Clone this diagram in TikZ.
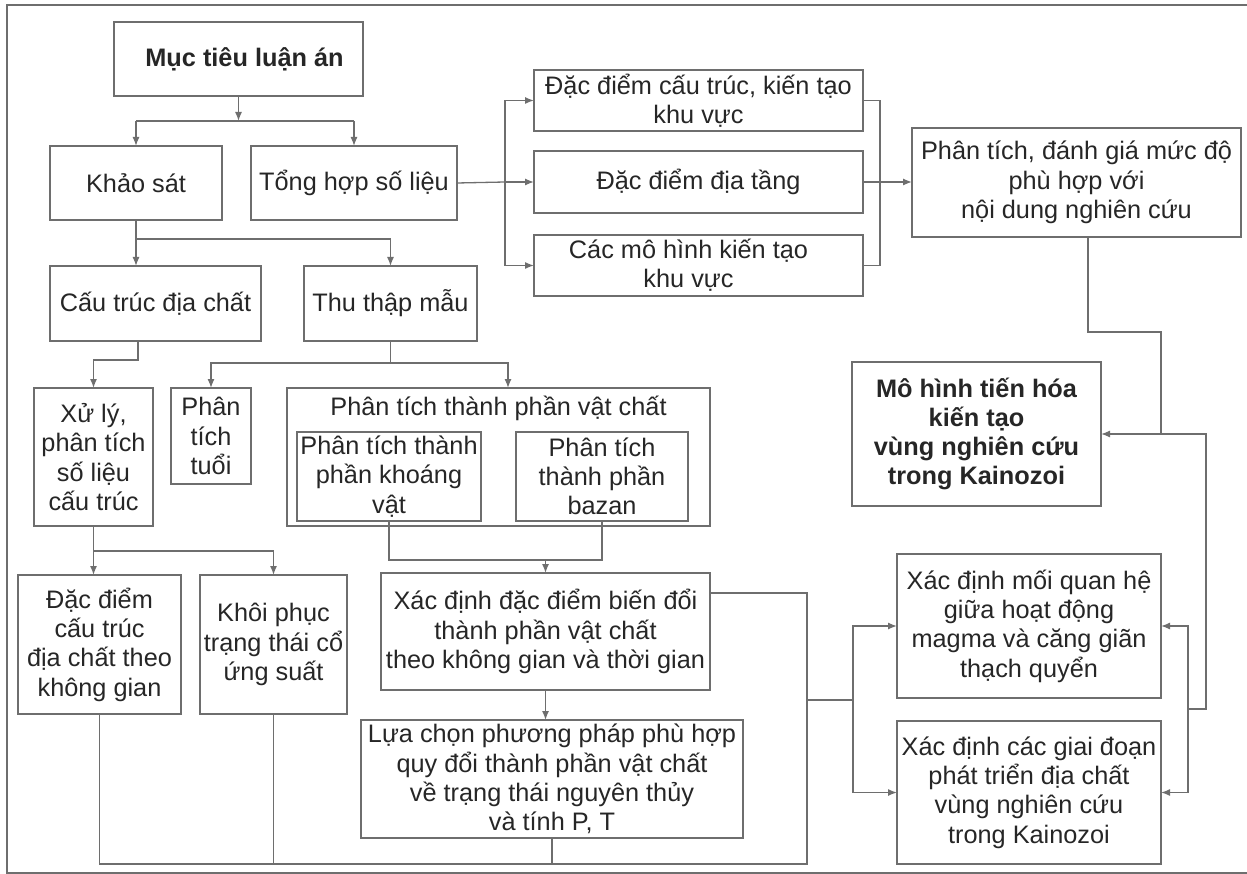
\documentclass[tikz,border=0pt]{standalone}
\usepackage{fontspec}
\setmainfont{Liberation Sans}
\usetikzlibrary{arrows.meta,calc}
\definecolor{lc}{RGB}{110,110,110}
\definecolor{tc}{RGB}{38,38,38}
\tikzset{
  box/.style={draw=lc, line width=1.3pt, inner sep=0pt, outer sep=0pt, align=center, text=tc,
    font=\fontsize{25.3}{29.3}\selectfont},
  boldbox/.style={font=\fontsize{25.3}{29.3}\selectfont\bfseries},
  ln/.style={draw=lc, line width=1.3pt},
  arr/.style={draw=lc, line width=1.3pt, -{Latex[length=9pt,width=7pt]}},
}
\newcommand{\mkbox}[7][]{\node[box,#1,minimum width={#5pt-#3pt},minimum height={#6pt-#4pt}] (#2) at ({(#3+#5)/2},{(#4+#6)/2}) {#7};}
\begin{document}
\begin{tikzpicture}[x=1pt,y=-1pt]
\useasboundingbox (0,0) rectangle (1247,874);
% frame
\draw[ln] (1248,5) -- (7,5) -- (7,873) -- (1248,873);
% boxes
\mkbox[boldbox]{muctieu}{114}{22}{363}{96}{\hspace*{12pt}Mục tiêu luận án}
\mkbox{khaosat}{50}{146}{222}{220}{Khảo sát}
\mkbox{tonghop}{251}{146}{457}{220}{Tổng hợp số liệu}
\mkbox{cautruc}{50}{266}{261}{341}{Cấu trúc địa chất}
\mkbox{thuthap}{304}{266}{477}{341}{Thu thập mẫu}
\mkbox{xuly}{34}{388}{153}{526}{Xử lý,\\phân tích\\số liệu\\cấu trúc}
\mkbox{tuoi}{171}{388}{251}{484}{Phân\\tích\\tuổi}
\mkbox{ptvc}{287}{388}{710}{526}{}
\node[text=tc, font=\fontsize{25.3}{29.3}\selectfont, inner sep=0pt] (ptvct) at (498.5,408) {Phân tích thành phần vật chất};
\mkbox{kv}{297}{432}{481}{521}{Phân tích thành\\phần khoáng\\vật}
\mkbox{bz}{516}{432}{688}{521}{Phân tích\\thành phần\\bazan}
\mkbox{dacdiem}{18}{575}{181}{714}{Đặc điểm\\cấu trúc\\địa chất theo\\không gian}
\mkbox{khoiphuc}{200}{575}{347}{714}{Khôi phục\\trạng thái cổ\\ứng suất}
\mkbox{xacdinh}{381}{573}{710}{690}{Xác định đặc điểm biến đổi\\thành phần vật chất\\theo không gian và thời gian}
\mkbox{luachon}{361}{720}{743}{838}{Lựa chọn phương pháp phù hợp\\quy đổi thành phần vật chất\\về trạng thái nguyên thủy\\và tính P, T}
\mkbox{dkt}{534}{70}{863}{131}{Đặc điểm cấu trúc, kiến tạo\\khu vực}
\mkbox{dtang}{534}{151}{863}{213}{Đặc điểm địa tầng}
\mkbox{cmh}{534}{235}{863}{296}{Các mô hình kiến tạo\hspace*{20pt}\\khu vực\hspace*{20pt}}
\mkbox{ptdg}{912}{128}{1241}{237}{Phân tích, đánh giá mức độ\\phù hợp với\\nội dung nghiên cứu}
\mkbox[boldbox]{mohinh}{852}{362}{1101}{506}{Mô hình tiến hóa\\kiến tạo\\vùng nghiên cứu\\trong Kainozoi}
\mkbox{moiquanhe}{897}{554}{1161}{698}{Xác định mối quan hệ\\giữa hoạt động\\magma và căng giãn\\thạch quyển}
\mkbox{giaidoan}{897}{721}{1161}{864}{Xác định các giai đoạn\\phát triển địa chất\\vùng nghiên cứu\\trong Kainozoi}
% coordinates
\coordinate (j0) at (238.5,121);
\coordinate (j1) at (136,239);
\coordinate (j2) at (390.5,363);
\coordinate (j3) at (94,551);
\coordinate (bL) at (505,182);
\coordinate (bR) at (880,182);
\coordinate (bB) at (807,864);
\coordinate (jL) at (853,700);
\coordinate (jR) at (1188,709);
\coordinate (jT) at (1206,434);
% connectors top
\draw[arr] (muctieu.south) -- (j0);
\draw[ln] (khaosat.north |- j0) -- (tonghop.north |- j0);
\draw[arr] (khaosat.north |- j0) -- (khaosat.north);
\draw[arr] (tonghop.north |- j0) -- (tonghop.north);
\draw[arr] (khaosat.south) -- (khaosat.south |- cautruc.north);
\draw[arr] (j1) -| (thuthap.north);
\draw[arr] ([xshift=-17.5pt]cautruc.south) |- ($(xuly.north)+(0,-28)$) -- (xuly.north);
\draw[ln] (thuthap.south) -- (j2);
\draw[arr] (j2) -| (tuoi.north);
\draw[arr] (j2) -| ([xshift=9.5pt]ptvc.north);
\draw[ln] (kv.south) -- ++(0,39) -| (bz.south);
\draw[arr] (xacdinh.north |- 0,560) -- (xacdinh.north);
\draw[arr] (xacdinh.south) -- (xacdinh.south |- luachon.north);
\draw[arr] (xuly.south) -- (xuly.south |- dacdiem.north);
\draw[arr] (j3) -| (khoiphuc.north);
% bottom collector
\draw[ln] (xacdinh.east |- 0,593) -| (bB) -- (dacdiem.south |- bB) -- (dacdiem.south);
\draw[ln] (khoiphuc.south) -- (khoiphuc.south |- bB);
\draw[ln] (luachon.south) -- (luachon.south |- bB);
\draw[ln] (bB |- jL) -- (jL);
\draw[arr] (jL) |- (moiquanhe.west);
\draw[arr] (jL) |- (giaidoan.west);
% upper right
\draw[ln] (tonghop.east) -- (bL);
\draw[arr] (bL) |- (dkt.west);
\draw[arr] (bL) -- (bL -| dtang.west);
\draw[arr] (bL) |- (cmh.west);
\draw[ln] (dkt.east) -| (bR);
\draw[ln] (cmh.east) -| (bR);
\draw[arr] (dtang.east |- bR) -- (bR -| ptdg.west);
% right loop
\draw[ln] ([xshift=11.5pt]ptdg.south) |- (1161,332) -- (1161,434);
\draw[arr] (jR) -| (jT) -- (mohinh.east);
\draw[arr] (jR) |- (moiquanhe.east);
\draw[arr] (jR) |- (giaidoan.east);
\end{tikzpicture}
\end{document}
